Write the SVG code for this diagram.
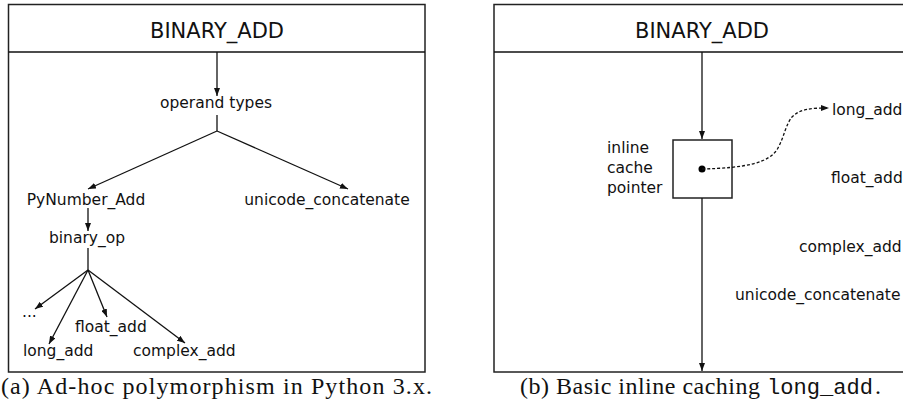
<svg xmlns="http://www.w3.org/2000/svg" width="903" height="412" viewBox="0 0 903 412">
  <defs>
    <marker id="arrow" viewBox="0 0 8 6" refX="8" refY="3" markerWidth="8" markerHeight="6" markerUnits="userSpaceOnUse" orient="auto">
      <path d="M0,0 L8,3 L0,6 Z" fill="#111"/>
    </marker>
    <clipPath id="page"><rect x="0" y="0" width="903" height="412"/></clipPath>
  </defs>
  <style>
    .frame { fill: #fff; stroke: #222; stroke-width: 1.5; }
    .edge { fill: none; stroke: #111; stroke-width: 1.3; }
    .arr { marker-end: url(#arrow); }
    .dash { stroke-dasharray: 3 2; }
    .lbl { font-family: "DejaVu Sans", sans-serif; font-size: 15.5px; fill: #111; }
    .title { font-family: "DejaVu Sans", sans-serif; font-size: 21px; fill: #111; text-anchor: middle; }
    .cap { font-family: "Liberation Serif", serif; font-size: 24px; fill: #111; }
    .mono { font-family: "Liberation Mono", monospace; font-size: 22px; fill: #111; }
  </style>

  <!-- panel (a): dispatch through PyNumber_Add -->
  <g id="panel-a">
    <rect class="frame" x="8.5" y="4.5" width="416.5" height="367.5"/>
    <line class="edge" x1="8.5" y1="52" x2="425" y2="52" style="stroke-width:1.5"/>
    <text class="title" x="217" y="38">BINARY_ADD</text>
  </g>

  <g id="operand-types"><text class="lbl" x="216" y="108" text-anchor="middle">operand types</text></g>
  <g id="pynumber-add"><text class="lbl" x="86" y="205" text-anchor="middle">PyNumber_Add</text></g>
  <g id="unicode-concatenate-a"><text class="lbl" x="327" y="205" text-anchor="middle">unicode_concatenate</text></g>
  <g id="binary-op"><text class="lbl" x="87" y="243" text-anchor="middle">binary_op</text></g>
  <g id="ellipsis"><text class="lbl" x="22" y="317">...</text></g>
  <g id="float-add-a"><text class="lbl" x="75" y="332">float_add</text></g>
  <g id="long-add-a"><text class="lbl" x="23" y="356">long_add</text></g>
  <g id="complex-add-a"><text class="lbl" x="133" y="356">complex_add</text></g>

  <!-- panel (b): inline cache pointer -->
  <g id="panel-b" clip-path="url(#page)">
    <rect class="frame" x="494" y="4.5" width="420" height="367.5"/>
    <line class="edge" x1="494" y1="52" x2="914" y2="52" style="stroke-width:1.5"/>
    <text class="title" x="702" y="38">BINARY_ADD</text>
  </g>

  <g id="cache-box">
    <rect class="frame" x="673" y="140" width="59" height="58"/>
    <circle cx="702" cy="169" r="3.5" fill="#000"/>
    <text class="lbl" x="607" y="153">inline</text>
    <text class="lbl" x="607" y="173">cache</text>
    <text class="lbl" x="607" y="193">pointer</text>
  </g>
  <g id="long-add-b"><text class="lbl" x="832" y="115">long_add</text></g>
  <g id="float-add-b"><text class="lbl" x="831" y="183">float_add</text></g>
  <g id="complex-add-b"><text class="lbl" x="799" y="252">complex_add</text></g>
  <g id="unicode-concatenate-b"><text class="lbl" x="735" y="300">unicode_concatenate</text></g>

  <!-- connectors -->
  <g id="connectors">
    <line class="edge arr" x1="217" y1="52" x2="217" y2="96"/>
    <polyline class="edge" points="217,115 217,131"/>
    <line class="edge arr" x1="217" y1="131" x2="88" y2="189"/>
    <line class="edge arr" x1="217" y1="131" x2="348" y2="189"/>
    <line class="edge arr" x1="88" y1="208" x2="88" y2="231"/>
    <line class="edge" x1="88" y1="248" x2="88" y2="270"/>
    <line class="edge arr" x1="88" y1="270" x2="35" y2="309"/>
    <line class="edge arr" x1="88" y1="270" x2="49" y2="344"/>
    <line class="edge arr" x1="88" y1="270" x2="107" y2="317"/>
    <line class="edge arr" x1="88" y1="270" x2="185" y2="343"/>

    <line class="edge arr" x1="702" y1="52" x2="702" y2="139"/>
    <line class="edge arr" x1="702" y1="198" x2="702" y2="371"/>
    <path class="edge arr dash" d="M702,169 C745,168 770,163 778,148 C784,137 786,124 792,117 C800,109 810,108 829,108"/>
  </g>

  <!-- captions -->
  <g id="captions">
    <text class="cap" x="1" y="394" textLength="431" lengthAdjust="spacing">(a) Ad-hoc polymorphism in Python 3.x.</text>
    <text class="cap" x="520" y="394" textLength="240" lengthAdjust="spacing">(b) Basic inline caching</text>
    <text class="mono" x="767" y="394" textLength="106" lengthAdjust="spacingAndGlyphs">long_add</text>
    <text class="cap" x="875" y="394">.</text>
  </g>
</svg>
